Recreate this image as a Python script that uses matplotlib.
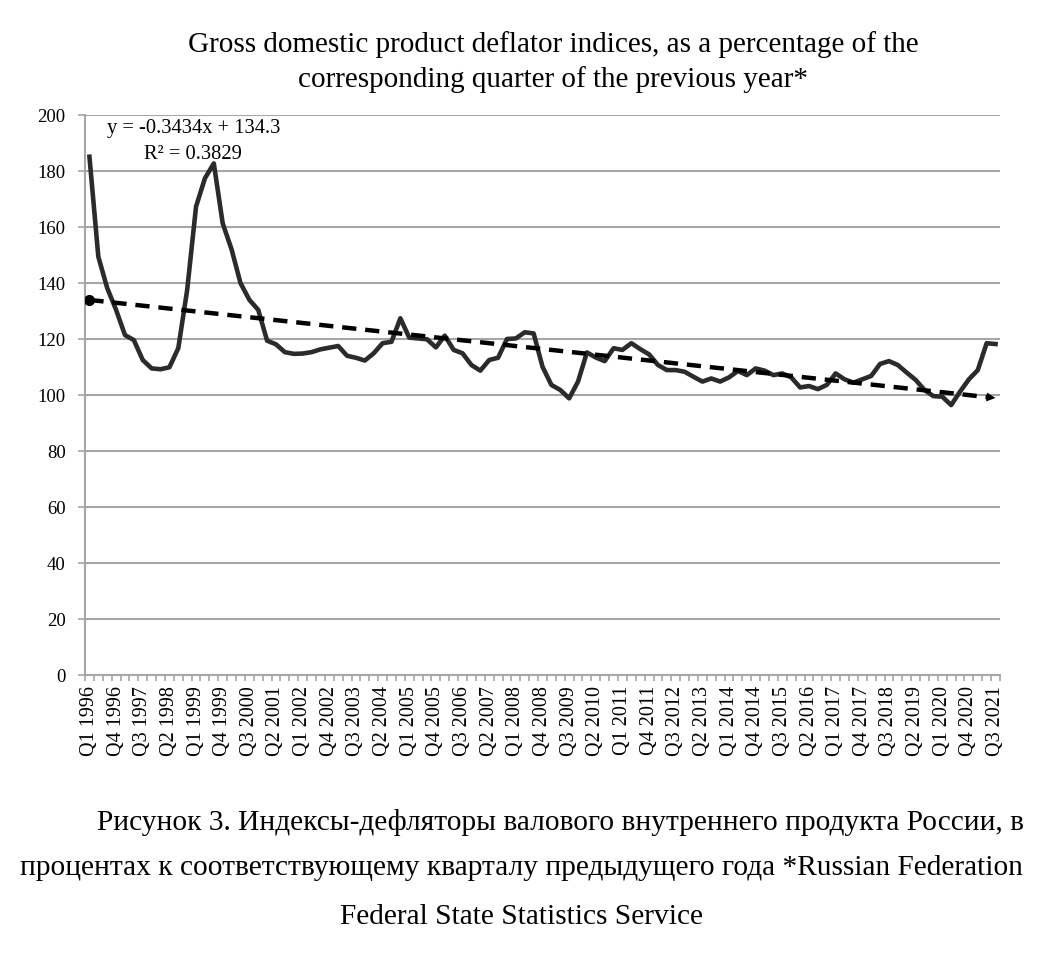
import matplotlib
matplotlib.use("Agg")
import matplotlib.pyplot as plt
import numpy as np

# ---- data ----
years = list(range(1996, 2022))
quarters = [f"Q{q} {y}" for y in years for q in range(1, 5)][:103]  # Q1 1996 .. Q3 2021

deflator = [
    185.1, 149.4, 138.2, 130.4, 121.4, 119.6, 112.5, 109.5, 109.2, 109.9,
    116.7, 137.5, 167.3, 177.4, 182.7, 161.3, 152.0, 140.0, 134.0, 130.4,
    119.4, 118.1, 115.3, 114.7, 114.8, 115.3, 116.3, 116.9, 117.5, 114.0,
    113.3, 112.3, 114.9, 118.5, 119.0, 127.4, 120.5, 120.2, 119.9, 117.0,
    121.2, 116.1, 114.9, 110.7, 108.7, 112.5, 113.3, 120.0, 120.2, 122.4,
    122.0, 110.1, 103.6, 101.8, 98.8, 104.8, 115.2, 113.4, 112.1, 116.7,
    116.1, 118.5, 116.4, 114.5, 110.7, 108.9, 108.9, 108.3, 106.5, 104.8,
    105.9, 104.8, 106.3, 108.6, 107.1, 109.5, 108.7, 107.1, 107.7, 106.3,
    102.7, 103.2, 102.1, 103.6, 107.7, 105.6, 104.4, 105.6, 106.8, 111.1,
    112.1, 110.7, 108.0, 105.4, 101.8, 99.6, 99.4, 96.4, 101.2, 105.6,
    108.9, 118.5, 118.2,
]

trend_slope = -0.3434
trend_intercept = 134.3
y_ticks = [0, 20, 40, 60, 80, 100, 120, 140, 160, 180, 200]

title = ("Gross domestic product deflator indices, as a percentage of the\n"
         "corresponding quarter of the previous year*")
equation_text = "y = -0.3434x + 134.3"
r2_text = "R² = 0.3829"
caption_lines = [
    "Рисунок 3. Индексы-дефляторы валового внутреннего продукта России, в",
    "процентах к соответствующему кварталу предыдущего года *Russian Federation",
    "Federal State Statistics Service",
]

# ---- plot ----
plt.rcParams['font.family'] = ['Liberation Serif', 'DejaVu Serif']
W, H = 1044, 955
fig = plt.figure(figsize=(W / 100, H / 100), dpi=100)
ax_left, ax_right, ax_top, ax_bot = 85, 1000, 115, 675
ax = fig.add_axes([ax_left / W, 1 - ax_bot / H, (ax_right - ax_left) / W, (ax_bot - ax_top) / H])

n = len(deflator)
xs = np.arange(n)
grid_c = '#a6a6a6'

ax.set_xlim(-0.5, n - 0.5)
ax.set_ylim(0, 200)
ax.set_yticks(y_ticks)
ax.yaxis.grid(True, color=grid_c, lw=1.5)
ax.set_axisbelow(True)
for s in ['top', 'right']:
    ax.spines[s].set_visible(False)
for s in ['left', 'bottom']:
    ax.spines[s].set_color(grid_c)
    ax.spines[s].set_linewidth(1.5)

ax.set_xticks(xs[::3])
ax.set_xticklabels(quarters[::3], rotation=90, fontsize=14.5)
ax.set_xticks(np.arange(n + 1) - 0.5, minor=True)
ax.tick_params(axis='x', which='major', length=0, pad=8)
ax.tick_params(axis='x', which='minor', length=4, width=1.2, color=grid_c, direction='out')
ax.tick_params(axis='y', length=5, width=1.2, color=grid_c, labelsize=13.5, pad=9)

ax.plot(xs, deflator, color='#2b2b2b', lw=3.3, solid_joinstyle='round', zorder=3)

tx = np.arange(1, n + 1)
ty = trend_slope * tx + trend_intercept
tpx = tx - 1
ax.plot(tpx[:-1].tolist() + [tpx[-1] - 0.6], list(ty[:-1]) + [trend_slope * (tx[-1] - 0.6) + trend_intercept],
        color='black', lw=3.2, ls=(0, (3.2, 2.0)), zorder=4)
ax.plot([tpx[0]], [ty[0]], marker='o', color='black', ms=7, zorder=5)
ax.annotate('', xy=(tpx[-1] + 0.3, trend_slope * (tx[-1] + 0.3) + trend_intercept),
            xytext=(tpx[-1] - 1.2, trend_slope * (tx[-1] - 1.2) + trend_intercept),
            arrowprops=dict(arrowstyle='-|>', color='black', lw=0, mutation_scale=16), zorder=5)

ax.text(11.7, 195.2, equation_text, fontsize=14.8, ha='center', va='center', zorder=6)
ax.text(11.7, 185.8, r2_text, fontsize=14.8, ha='center', va='center', zorder=6)

fig.text(553 / W, 1 - 62 / H, title, fontsize=21, ha='center', va='center', linespacing=1.38)

fig.text(97 / W, 1 - 822 / H, caption_lines[0], fontsize=21.2, ha='left', va='center')
fig.text(20 / W, 1 - 868 / H, caption_lines[1], fontsize=21.2, ha='left', va='center')
fig.text(522 / W, 1 - 917 / H, caption_lines[2], fontsize=21.2, ha='center', va='center')

fig.savefig('out.png', dpi=100, facecolor='white')
